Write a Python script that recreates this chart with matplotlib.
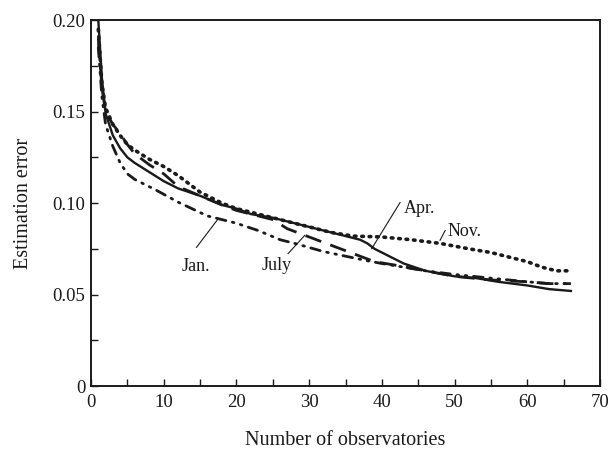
import matplotlib
matplotlib.use("Agg")
import matplotlib.pyplot as plt
from matplotlib.ticker import MultipleLocator, FixedFormatter, FixedLocator

plt.rcParams["font.family"] = ["Liberation Serif", "DejaVu Serif"]

# Estimation error versus number of observatories, one curve per month
apr_x = [1, 1.5, 2, 3, 4, 5, 6, 8, 10, 12, 15, 18, 20, 22, 25, 28, 31, 34, 37, 38, 39, 41, 43, 46, 50, 53, 56, 60, 63, 66]
apr_y = [0.200, 0.168, 0.149, 0.137, 0.130, 0.125, 0.122, 0.117, 0.112, 0.108, 0.104, 0.099, 0.097, 0.094, 0.092, 0.089, 0.086, 0.083, 0.080, 0.078, 0.075, 0.071, 0.067, 0.063, 0.060, 0.059, 0.057, 0.055, 0.053, 0.052]

nov_x = [1, 1.5, 2, 3, 4, 5, 6, 8, 10, 12, 15, 18, 20, 22, 25, 28, 30, 33, 36, 40, 44, 48, 52, 55, 58, 60, 62, 64, 66]
nov_y = [0.195, 0.165, 0.152, 0.143, 0.137, 0.132, 0.129, 0.124, 0.120, 0.115, 0.106, 0.100, 0.097, 0.095, 0.092, 0.089, 0.087, 0.084, 0.082, 0.0815, 0.080, 0.078, 0.075, 0.073, 0.070, 0.068, 0.065, 0.063, 0.063]

jan_x = [1, 1.5, 2, 3, 4, 5, 6, 7, 9, 12, 16, 20, 23, 26, 28, 32, 35, 38, 40, 43, 46, 50, 55, 60, 63, 66]
jan_y = [0.185, 0.158, 0.143, 0.131, 0.122, 0.116, 0.113, 0.111, 0.107, 0.1005, 0.093, 0.089, 0.085, 0.080, 0.078, 0.0735, 0.071, 0.0685, 0.067, 0.065, 0.063, 0.061, 0.059, 0.057, 0.056, 0.056]

jul_x = [1, 1.5, 2, 3, 4, 5, 6, 8, 10, 12, 15, 18, 20, 23, 25, 27, 29, 31, 33, 35, 37, 39, 42, 46, 50, 55, 60, 63, 66]
jul_y = [0.190, 0.163, 0.150, 0.143, 0.138, 0.132, 0.127, 0.121, 0.116, 0.109, 0.104, 0.099, 0.096, 0.093, 0.091, 0.086, 0.083, 0.080, 0.077, 0.074, 0.071, 0.068, 0.066, 0.063, 0.060, 0.058, 0.057, 0.056, 0.056]

x_ticks = [0, 10, 20, 30, 40, 50, 60, 70]
y_ticks = [0, 0.05, 0.10, 0.15, 0.20]
y_tick_labels = ["0", "0.05", "0.10", "0.15", "0.20"]

fig = plt.figure(figsize=(6.11, 4.58), dpi=100)
ax = fig.add_axes([0.149, 0.157, 0.833, 0.799])

ink = "#1a1a1a"
ax.plot(nov_x, nov_y, color=ink, lw=2.6, linestyle=(0, (0.45, 1.6)), dash_capstyle="round")
ax.plot(jan_x, jan_y, color=ink, lw=2.0, linestyle=(0, (3.5, 2.4, 0.6, 2.4, 0.6, 2.4)), dash_capstyle="round")
ax.plot(jul_x, jul_y, color=ink, lw=2.0, linestyle=(0, (6, 3.5)))
ax.plot(apr_x, apr_y, color=ink, lw=1.7, linestyle="-")

ax.set_xlim(0, 70)
ax.set_ylim(0, 0.20)
ax.xaxis.set_major_locator(FixedLocator(x_ticks))
ax.xaxis.set_minor_locator(MultipleLocator(5))
ax.yaxis.set_major_locator(FixedLocator(y_ticks))
ax.yaxis.set_major_formatter(FixedFormatter(y_tick_labels))
ax.yaxis.set_minor_locator(MultipleLocator(0.025))
ax.tick_params(which="both", direction="in", length=5, width=1.0, top=False, right=False,
               labelsize=13.5, colors=ink)
ax.tick_params(axis="x", pad=6)
ax.tick_params(axis="y", pad=4)
for s in ax.spines.values():
    s.set_linewidth(1.4)
    s.set_color(ink)

ax.set_xlabel("Number of observatories", fontsize=14.5, labelpad=14, color=ink)
ax.set_ylabel("Estimation error", fontsize=14.5, labelpad=14, color=ink)

# Month labels with leader lines
labels = [
    ("Jan.", (14.4, 0.0651), (14.5, 0.0758), (17.5, 0.0915)),
    ("July", (25.5, 0.0660), (27.1, 0.0724), (29.4, 0.0824)),
    ("Apr.", (45.2, 0.0972), (42.5, 0.1003), (38.6, 0.0751)),
    ("Nov.", (51.3, 0.0845), (48.7, 0.0850), (48.0, 0.0797)),
]
for text, tpos, p0, p1 in labels:
    ax.plot([p0[0], p1[0]], [p0[1], p1[1]], color=ink, lw=0.8)
    ax.text(tpos[0], tpos[1], text, fontsize=13, ha="center", va="center", color=ink)

fig.savefig("out.png", dpi=100)
